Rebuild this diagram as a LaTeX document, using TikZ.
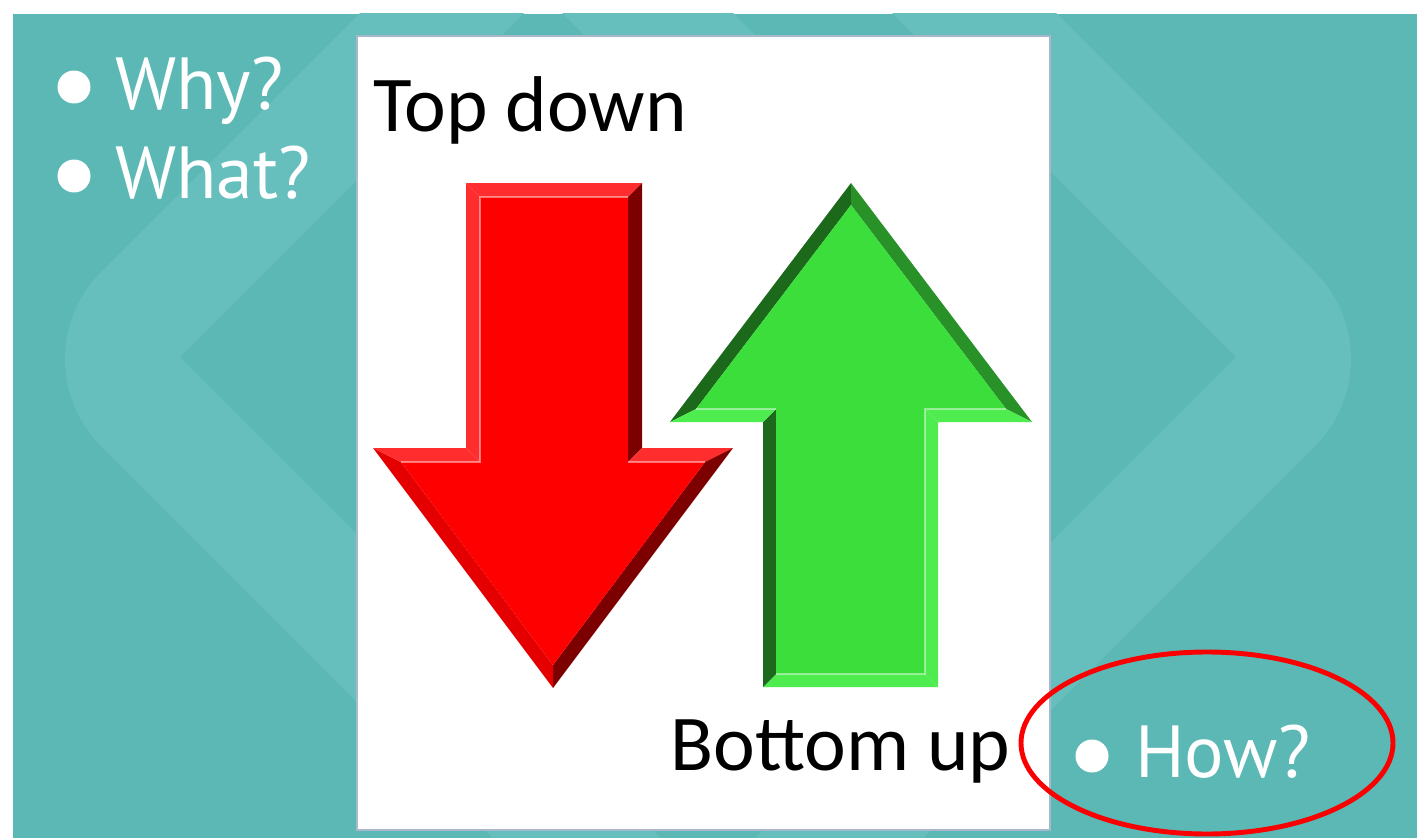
\documentclass[tikz,border=0pt]{standalone}
\usepackage{fontspec}
\setmainfont{Carlito}
\newfontfamily\askfont{PT Sans}
\usepackage{tikz}
\usetikzlibrary{positioning}
\definecolor{slideTeal}{RGB}{91,184,180}
\definecolor{slideTealLight}{RGB}{102,191,188}
\definecolor{panelEdge}{RGB}{168,184,204}
\definecolor{arrRed}{RGB}{255,0,0}
\definecolor{arrRedDark}{RGB}{125,0,0}
\definecolor{arrRedMid}{RGB}{228,0,0}
\definecolor{arrRedLight}{RGB}{255,45,45}
\definecolor{arrGreen}{RGB}{59,222,59}
\definecolor{arrGreenDark}{RGB}{28,105,28}
\definecolor{arrGreenMid}{RGB}{40,145,40}
\definecolor{arrGreenLight}{RGB}{78,236,78}
\definecolor{ringRed}{RGB}{250,0,0}

\tikzset{
  boardText/.style={anchor=base west, inner sep=0pt, text=black,
    font=\fontsize{45}{52}\selectfont},
  askText/.style={anchor=base west, inner sep=0pt, text=white,
    font=\askfont\fontsize{42}{49}\selectfont},
  dotMark/.style={circle, fill=white, inner sep=0pt, minimum size=0.66cm},
  glint/.style={white, opacity=0.45, line width=1pt}
}

\begin{document}
\begin{tikzpicture}[x=0.02cm,y=-0.02cm]
    \useasboundingbox (0,0) rectangle (1417,838);

    % slide background with the two faint chevrons
    \fill[slideTeal] (13,14) rectangle (1417,838);
    \begin{scope}
        \clip (13,14) rectangle (1417,838);
        \fill[slideTealLight] (393,-20) -- (101,272) .. controls (53,320) and (53,398) .. (101,446)
            -- (515,860) -- (683,860) -- (180,357) -- (557,-20) -- cycle;
        \begin{scope}[shift={(1416,0)},xscale=-1]
            \fill[slideTealLight] (393,-20) -- (101,272) .. controls (53,320) and (53,398) .. (101,446)
                -- (515,860) -- (683,860) -- (180,357) -- (557,-20) -- cycle;
        \end{scope}
        \fill[slideTealLight] (529,-20) -- (700,-20) -- (780,60) -- (609,60) -- cycle;
    \end{scope}

    % white board
    \filldraw[fill=white, draw=panelEdge, line width=1pt] (357,36) rectangle (1050,830);

    % red arrow, pointing down
    \begin{scope}
        \coordinate (rA) at (466,183); \coordinate (rA') at (480,197);
        \coordinate (rB) at (642,183); \coordinate (rB') at (628,197);
        \coordinate (rC) at (642,448); \coordinate (rC') at (628,462);
        \coordinate (rD) at (733,448); \coordinate (rD') at (705,462);
        \coordinate (rE) at (553,688); \coordinate (rE') at (553,665);
        \coordinate (rF) at (373,448); \coordinate (rF') at (401,462);
        \coordinate (rG) at (466,448); \coordinate (rG') at (480,462);
        \fill[arrRedLight] (rA) -- (rB) -- (rB') -- (rA') -- cycle;
        \fill[arrRedDark] (rB) -- (rC) -- (rC') -- (rB') -- cycle;
        \fill[arrRedLight] (rC) -- (rD) -- (rD') -- (rC') -- cycle;
        \fill[arrRedDark] (rD) -- (rE) -- (rE') -- (rD') -- cycle;
        \fill[arrRedMid] (rE) -- (rF) -- (rF') -- (rE') -- cycle;
        \fill[arrRedLight] (rF) -- (rG) -- (rG') -- (rF') -- cycle;
        \fill[arrRedLight] (rG) -- (rA) -- (rA') -- (rG') -- cycle;
        \fill[arrRed] (rA') -- (rB') -- (rC') -- (rD') -- (rE') -- (rF') -- (rG') -- cycle;
        \draw[glint] (rF') -- (rG') -- (rA') -- (rB');
        \draw[glint] (rC') -- (rD');
    \end{scope}

    % green arrow, pointing up
    \begin{scope}
        \coordinate (gT) at (851,183);  \coordinate (gT') at (851,205);
        \coordinate (gR) at (1032,422); \coordinate (gR') at (1006,409);
        \coordinate (gS) at (938,422);  \coordinate (gS') at (925,409);
        \coordinate (gU) at (938,687);  \coordinate (gU') at (925,674);
        \coordinate (gV) at (763,687);  \coordinate (gV') at (776,674);
        \coordinate (gW) at (763,422);  \coordinate (gW') at (776,409);
        \coordinate (gL) at (670,422);  \coordinate (gL') at (696,409);
        \fill[arrGreenDark] (gL) -- (gT) -- (gT') -- (gL') -- cycle;
        \fill[arrGreenMid] (gT) -- (gR) -- (gR') -- (gT') -- cycle;
        \fill[arrGreenLight] (gR) -- (gS) -- (gS') -- (gR') -- cycle;
        \fill[arrGreenLight] (gS) -- (gU) -- (gU') -- (gS') -- cycle;
        \fill[arrGreenLight] (gU) -- (gV) -- (gV') -- (gU') -- cycle;
        \fill[arrGreenDark] (gV) -- (gW) -- (gW') -- (gV') -- cycle;
        \fill[arrGreenLight] (gW) -- (gL) -- (gL') -- (gW') -- cycle;
        \fill[arrGreen] (gT') -- (gR') -- (gS') -- (gU') -- (gV') -- (gW') -- (gL') -- cycle;
        \draw[glint] (gR') -- (gS') -- (gU') -- (gV');
        \draw[glint] (gW') -- (gL');
    \end{scope}

    % labels
    \node[dotMark] (whyDot) at (74,87) {};
    \node[askText] (why) at (115,110) {Why?};
    \node[dotMark] (whatDot) at (74,176) {};
    \node[askText] (what) at (115,198) {What?};
    \node[boardText] (topDown) at (373,132) {Top down};
    \node[boardText] (bottomUp) at (670,770) {Bottom up};
    \node[dotMark] (howDot) at (1092,756) {};
    \node[askText] (how) at (1135,777) {How?};

    % ring round the last question
    \draw[ringRed, line width=2.8pt] (1207,743) ellipse [x radius=186, y radius=91];
\end{tikzpicture}
\end{document}
